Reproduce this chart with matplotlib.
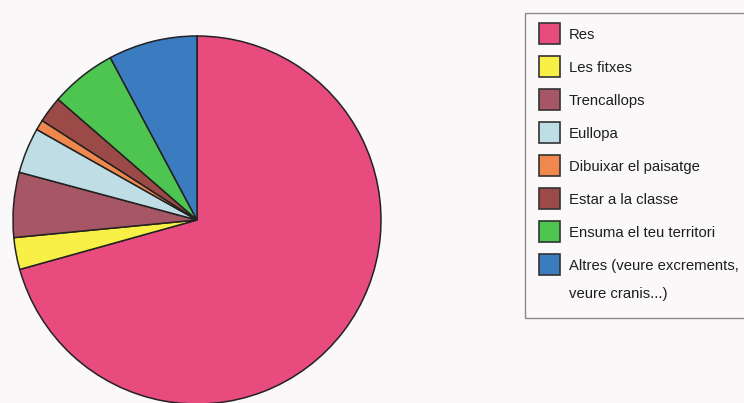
import matplotlib.pyplot as plt
from matplotlib.patches import Rectangle

labels = ['Res', 'Les fitxes', 'Trencallops', 'Eullopa', 'Dibuixar el paisatge',
          'Estar a la classe', 'Ensuma el teu territori',
          'Altres (veure excrements,\nveure cranis...)']
values = [70.6, 2.8, 5.7, 4.0, 0.9, 2.3, 5.8, 7.8]
colors = ['#E84C7E', '#F8F046', '#A65664', '#BFDDE4', '#F0884E',
          '#9B4A47', '#4EC451', '#3B7BC0']

bg = '#fbf8f9'
fig = plt.figure(figsize=(7.44, 4.03), dpi=100, facecolor=bg)

# pie: centre (197, 220) px, radius 184 px
W, H = 744, 403
cx, cy, r = 197, 220, 184
ax = fig.add_axes([(cx - r) / W, (H - cy - r) / H, 2 * r / W, 2 * r / H])
ax.pie(values, colors=colors, startangle=90, counterclock=False,
       wedgeprops=dict(edgecolor='#222222', linewidth=1.1))
ax.set_xlim(-1, 1)
ax.set_ylim(-1, 1)
ax.set_aspect('equal')
ax.axis('off')

# legend drawn in pixel coords
lax = fig.add_axes([0, 0, 1, 1], facecolor='none')
lax.set_xlim(0, W)
lax.set_ylim(H, 0)
lax.axis('off')
lax.add_patch(Rectangle((524.5, 12.5), 240, 305, facecolor='none',
                        edgecolor='#8a8a8a', linewidth=1.0))
y0, step = 33, 33
for i, (lab, col) in enumerate(zip(labels, colors)):
    yc = y0 + i * step
    lax.add_patch(Rectangle((538.5, yc - 10), 21, 21, facecolor=col,
                            edgecolor='#333333', linewidth=1.2))
    for j, line in enumerate(lab.split('\n')):
        lax.text(569, yc + 2 + j * 28, line, va='center', ha='left',
                 fontsize=10.7, family='Liberation Sans', color='#1e1e1e')

fig.savefig('out.png', dpi=100, facecolor=bg)
